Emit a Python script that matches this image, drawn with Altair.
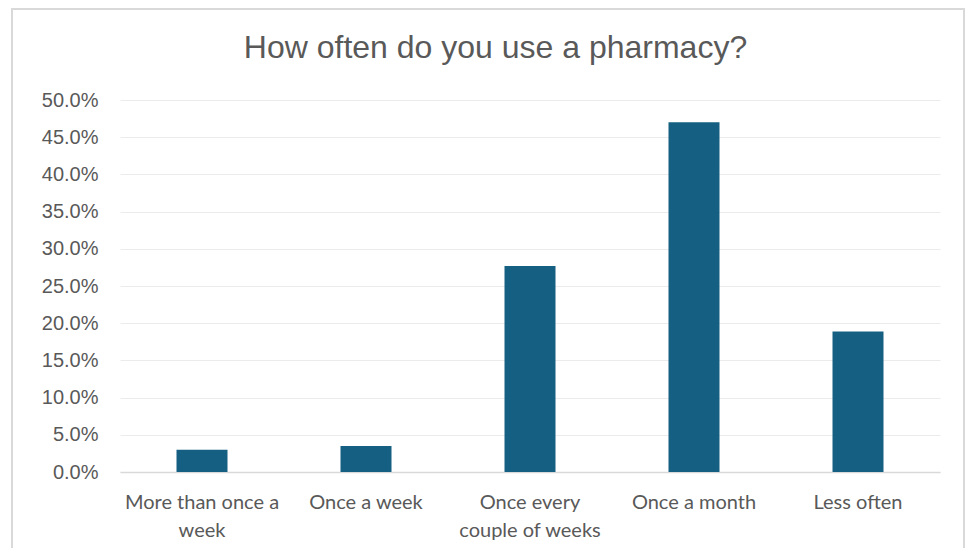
import altair as alt
import pandas as pd

categories = ["More than once a week", "Once a week", "Once every couple of weeks", "Once a month", "Less often"]
label_lines = [["More than once a", "week"], ["Once a week"], ["Once every", "couple of weeks"], ["Once a month"], ["Less often"]]
values = [0.030, 0.035, 0.277, 0.470, 0.189]
y_ticks = [0.0, 0.05, 0.10, 0.15, 0.20, 0.25, 0.30, 0.35, 0.40, 0.45, 0.50]
title_text = "How often do you use a pharmacy?"

df = pd.DataFrame({"category": categories, "value": values})

SANS = "Liberation Sans"
XFONT = "Lato"
TEXT = "#595959"

# label expression for wrapped category labels
parts = []
for c, lines in zip(categories, label_lines):
    arr = "[" + ",".join("'" + l + "'" for l in lines) + "]"
    parts.append(f"datum.value == '{c}' ? {arr} : ")
label_expr = "".join(parts) + "datum.label"

bars = alt.Chart(df).mark_bar(color="#156082", size=51).encode(
    x=alt.X("category:N", sort=categories, title=None,
            scale=alt.Scale(paddingInner=0, paddingOuter=0),
            axis=alt.Axis(labelExpr=label_expr, labelAngle=0, labelFont=XFONT, labelFontSize=20,
                          labelColor=TEXT, labelPadding=20, labelLineHeight=28, ticks=False,
                          domainColor="#d9d9d9", domainWidth=1.5, labelLimit=200)),
    y=alt.Y("value:Q", title=None,
            scale=alt.Scale(domain=[0, 0.5], nice=False),
            axis=alt.Axis(values=y_ticks, format=".1%", labelFont=SANS, labelFontSize=20,
                          labelColor=TEXT, labelPadding=22, ticks=False, domain=False,
                          gridColor="#ebebeb", gridWidth=1.2)),
)

frame = alt.Chart(alt.Data(values=[{}])).mark_rect(filled=False, stroke="#d9d9d9", strokeWidth=2).encode(
    x=alt.value(-108), x2=alt.value(844), y=alt.value(-91), y2=alt.value(470)
)

title = alt.Chart(alt.Data(values=[{"t": title_text}])).mark_text(
    font=SANS, fontSize=32, color=TEXT, align="center", baseline="alphabetic"
).encode(text="t:N", x=alt.value(375.5), y=alt.value(-42))

chart = alt.layer(frame, bars, title).properties(
    width=820, height=372,
    autosize=alt.AutoSizeParams(type="none"),
    padding={"left": 112, "top": 92, "right": 25, "bottom": 76},
).configure_view(stroke=None).configure_axis(grid=True).configure_axisX(grid=False)

chart.save("out.html", embed_options={"renderer": "svg", "actions": False})
